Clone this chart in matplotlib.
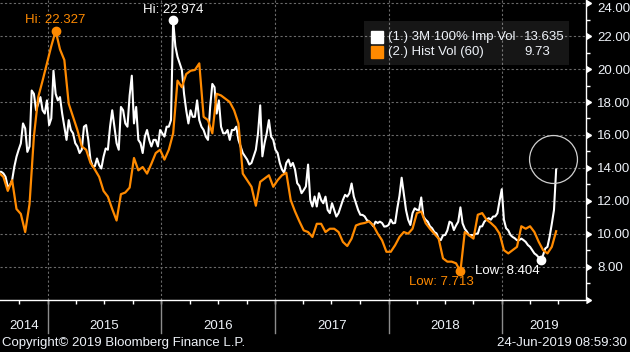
"""Bloomberg-style implied vs historical vol chart, saved to out.png."""

import matplotlib
matplotlib.use("Agg")
import matplotlib.pyplot as plt
import matplotlib.transforms as mtransforms
from matplotlib.patches import Rectangle
import pandas as pd

plt.rcParams["font.family"] = ["Liberation Sans", "DejaVu Sans"]

# --- data -----------------------------------------------------------------
# implied vol: one value per week
imp_vol = [
    13.76, 13.76, 13.66, 13.45, 12.84, 12.95, 13.25, 14.06, 14.67, 15.1,
    15.48, 16.7, 16.4, 14.97, 15.3, 18.7, 18.5, 17.5, 17.9, 18.3,
    17.5, 17.3, 18.1, 16.6, 17.0, 19.9, 18.5, 18.1, 18.3, 17.3,
    16.5, 15.7, 16.9, 16.3, 16.1, 15.5, 15.3, 14.9, 15.1, 16.5,
    16.6, 15.7, 14.5, 14.1, 14.1, 14.57, 14.16, 13.96, 14.67, 15.18,
    15.1, 16.5, 17.5, 16.5, 15.5, 15.1, 17.7, 17.5, 16.7, 16.5,
    18.4, 19.6, 16.7, 17.7, 15.7, 15.5, 14.9, 15.9, 16.3, 15.7,
    15.3, 15.7, 15.7, 15.3, 16.3, 16.1, 15.9, 16.5, 16.5, 16.9,
    22.974, 21.4, 20.75, 20.35, 19.95, 18.5, 17.5, 16.7, 17.5, 17.1,
    17.1, 18.1, 16.9, 16.5, 16.3, 15.9, 15.7, 17.7, 19.1, 18.9,
    17.3, 18.1, 16.5, 16.1, 16.1, 16.3, 15.7, 16.3, 16.3, 16.5,
    15.7, 15.3, 14.9, 14.7, 14.5, 14.2, 14.3, 14.7, 15.1, 16.1,
    17.8, 14.7, 15.5, 16.1, 16.9, 15.9, 15.7, 15.1, 14.9, 14.3,
    13.9, 13.7, 14.3, 14.5, 14.1, 14.3, 13.9, 13.07, 12.9, 12.46,
    12.65, 12.87, 14.2, 12.05, 11.65, 12.26, 11.65, 12.46, 12.05, 11.85,
    12.25, 11.44, 11.25, 11.85, 11.45, 11.04, 11.25, 11.65, 12.05, 12.36,
    12.25, 12.46, 13.05, 12.26, 11.85, 11.44, 11.15, 11.14, 11.05, 10.83,
    10.75, 10.63, 10.45, 10.73, 10.65, 10.73, 10.65, 10.43, 10.45, 10.53,
    10.85, 10.63, 10.65, 11.54, 12.3, 13.4, 12.4, 11.44, 10.85, 10.53,
    11.25, 11.54, 11.45, 11.44, 12.2, 11.04, 10.85, 10.73, 10.45, 10.33,
    10.1, 10.02, 9.7, 9.61, 9.9, 9.92, 10.2, 10.73, 10.65, 10.22,
    10.5, 10.73, 11.6, 10.63, 10.3, 10.12, 9.9, 9.92, 9.9, 10.0,
    10.0, 10.43, 10.45, 10.73, 10.85, 10.94, 10.85, 11.04, 11.05, 11.24,
    12.0, 12.7, 10.85, 10.33, 10.2, 9.92, 9.8, 9.72, 9.6, 9.61,
    9.7, 9.61, 9.5, 9.31, 9.2, 9.0, 8.8, 8.7, 8.55, 8.404,
    8.7, 9.1, 9.2, 9.82, 10.6, 11.44, 13.9,
]
# historical vol: one value every two weeks
hist_vol = [
    13.7, 13.45, 12.6, 13.25, 11.5, 11.2, 10.1, 11.8, 15.9, 18.3,
    19.3, 20.35, 21.4, 22.327, 21.2, 20.55, 17.9, 17.1, 16.3, 15.3,
    15.1, 14.3, 13.9, 13.45, 12.6, 12.25, 11.5, 10.8, 12.4, 12.5,
    12.8, 14.6, 13.85, 14.05, 13.65, 14.25, 14.9, 15.1, 14.5, 15.1,
    16.1, 19.3, 18.9, 19.7, 19.9, 19.95, 20.35, 17.1, 16.9, 16.1,
    18.5, 18.4, 18.2, 18.0, 17.5, 16.7, 13.65, 13.25, 12.85, 11.7,
    13.15, 13.35, 13.55, 12.85, 13.25, 13.55, 13.7, 12.05, 11.35, 10.75,
    10.2, 10.1, 9.8, 10.6, 10.6, 10.1, 10.3, 10.3, 10.1, 9.5,
    9.25, 9.7, 10.5, 10.6, 10.65, 10.75, 10.5, 10.0, 9.6, 8.9,
    8.9, 9.3, 9.8, 10.1, 10.0, 10.3, 11.25, 11.35, 10.65, 10.3,
    10.0, 9.7, 8.5, 8.3, 8.3, 8.2, 7.713, 10.1, 9.9, 9.7,
    11.15, 11.25, 10.85, 10.65, 10.4, 10.0, 9.0, 8.8, 9.0, 9.2,
    10.45, 10.3, 10.45, 10.1, 9.5, 9.0, 8.8, 9.2, 10.15,
]
imp_dates = pd.date_range(end="2019-06-24", periods=len(imp_vol), freq="7D")
hist_dates = pd.date_range(end="2019-06-24", periods=len(hist_vol), freq="14D")

imp_label = "(1.) 3M 100% Imp Vol"
hist_label = "(2.) Hist Vol (60)"
imp_last = "13.635"
hist_last = "9.73"
years = [2014, 2015, 2016, 2017, 2018, 2019]
y_ticks = [6, 8, 10, 12, 14, 16, 18, 20, 22, 24]

WHITE = "#ffffff"
ORANGE = "#ff8a00"
GRID = "#6a6a6a"
TEXT = "#eef2f8"

x_start = pd.Timestamp("2014-07-31")
x_end = pd.Timestamp("2019-09-28")

# --- figure ---------------------------------------------------------------
fig = plt.figure(figsize=(6.3, 3.52), dpi=100, facecolor="black")
ax = fig.add_axes([0, 52.5 / 352, 586 / 630, 299.5 / 352], facecolor="black")
ax.set_xlim(x_start, x_end)
ax.set_ylim(6, 24.2)

# grid
for y in y_ticks[1:]:
    ax.axhline(y, color=GRID, lw=0.8, ls=(0, (2, 2)), zorder=1)
year_starts = [pd.Timestamp(f"{y}-01-01") for y in years[1:]]
for d in year_starts:
    ax.axvline(d, color=GRID, lw=0.8, ls=(0, (2, 2)), zorder=1)
    ax.axvline(d, ymin=-0.112, ymax=0, color="#8c8c8c", lw=1.0, clip_on=False)

# series
ax.plot(imp_dates, imp_vol, color=WHITE, lw=1.5, zorder=3)
ax.plot(hist_dates, hist_vol, color=ORANGE, lw=1.6, zorder=4)

# hi / low markers
imp_s = pd.Series(imp_vol, index=imp_dates)
hist_s = pd.Series(hist_vol, index=hist_dates)
marks = [
    (hist_s.idxmax(), hist_s.max(), "Hi", ORANGE, (0, 7.5)),
    (imp_s.idxmax(), imp_s.max(), "Hi", WHITE, (0, 7.0)),
    (hist_s.idxmin(), hist_s.min(), "Low", ORANGE, (-14, -8)),
    (imp_s.idxmin(), imp_s.min(), "Low", WHITE, (-24, -8)),
]
for d, v, tag, col, off in marks:
    ax.plot([d], [v], "o", color=col, ms=6, zorder=5)
    ax.annotate(f"{tag}: {v:.3f}", xy=(d, v), xytext=off,
                textcoords="offset points", ha="center", va="center",
                color=col, fontsize=9.5, zorder=6)

# circle around the last implied vol print
circ_tr = mtransforms.offset_copy(ax.transData, fig=fig, x=-3, y=10, units="dots")
ax.plot([imp_dates[-1]], [imp_vol[-1]], "o", ms=34.5, mfc="none", mec="#d0d0d0",
        mew=0.9, transform=circ_tr, clip_on=False, zorder=6)

# legend box
ax.add_patch(Rectangle((0.621, 0.783), 0.350, 0.147, transform=ax.transAxes,
                       facecolor="white", alpha=0.09, edgecolor="none", zorder=7))
for row_y, col, lab, val in [(0.877, WHITE, imp_label, imp_last),
                             (0.825, ORANGE, hist_label, hist_last)]:
    ax.plot([0.644], [row_y], "s", color=col, ms=8, transform=ax.transAxes, zorder=8)
    ax.text(0.662, row_y, lab, color=TEXT, fontsize=9.5, va="center",
            transform=ax.transAxes, zorder=8)
    ax.text(0.894, row_y, val, color=TEXT, fontsize=9.5, va="center",
            transform=ax.transAxes, zorder=8)

# axes styling
for side in ("top", "left"):
    ax.spines[side].set_visible(False)
for side in ("right", "bottom"):
    ax.spines[side].set_color(WHITE)
    ax.spines[side].set_linewidth(1.0)

ax.yaxis.tick_right()
ax.set_yticks(y_ticks)
ax.set_yticklabels([""] + [f"{y:.2f}" for y in y_ticks[1:]])
ax.set_yticks([y + 1 for y in y_ticks[:-1]], minor=True)
ax.tick_params(axis="y", which="major", length=0, pad=8, labelsize=9.5,
               labelcolor=TEXT)
ax.tick_params(axis="y", which="minor", length=3, width=1, color=WHITE)
ax.get_yticklabels()[-1].set_va("top")
ax.plot([1] * len(y_ticks), y_ticks, marker=9, ls="none", ms=5, color=WHITE,
        transform=ax.get_yaxis_transform(), clip_on=False, zorder=6)

quarters = pd.date_range("2014-10-01", "2019-07-01", freq="QS")
ax.set_xticks(quarters)
ax.set_xticklabels([])
ax.tick_params(axis="x", which="major", length=3, width=1, color=WHITE)

# year labels centred in the visible part of each year
for y in years:
    lo = max(pd.Timestamp(f"{y}-01-01"), x_start)
    hi = min(pd.Timestamp(f"{y + 1}-01-01"), x_end)
    ax.text(lo + (hi - lo) / 2, -0.088, str(y), color=TEXT, fontsize=9.5,
            ha="center", va="center", transform=ax.get_xaxis_transform())

fig.text(2 / 630, 1 - 343 / 352, "Copyright\u00a9 2019 Bloomberg Finance L.P.",
         color=TEXT, fontsize=9.5, va="center")
fig.text(627 / 630, 1 - 343 / 352, "24-Jun-2019 08:59:30", color=TEXT,
         fontsize=9.5, va="center", ha="right")

fig.savefig("out.png", dpi=100, facecolor="black")
